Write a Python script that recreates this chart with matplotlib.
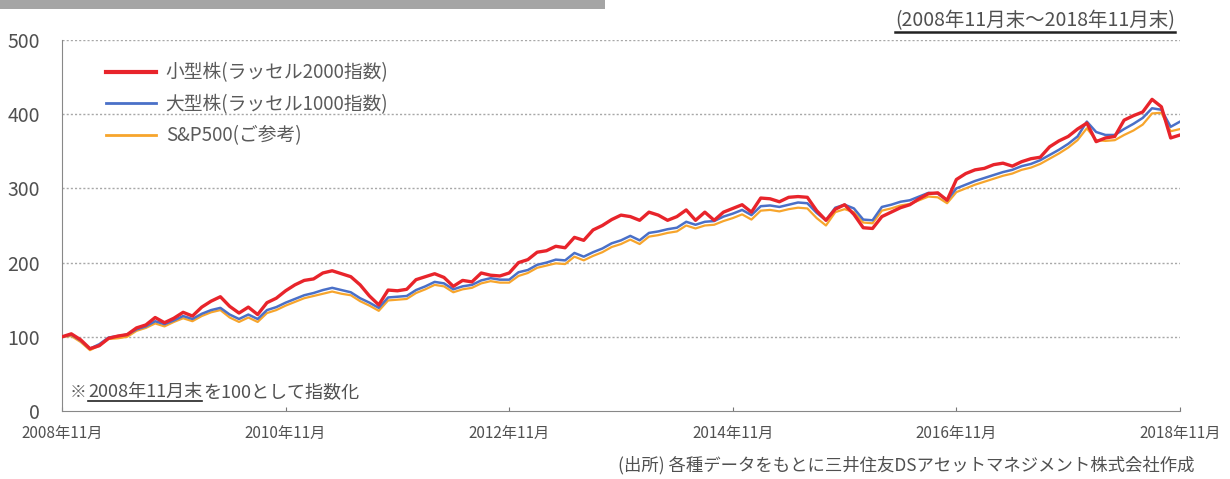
import matplotlib
matplotlib.use("Agg")
import matplotlib.pyplot as plt
from matplotlib.patches import Rectangle
from matplotlib.lines import Line2D

plt.rcParams['font.family'] = ['Noto Sans CJK JP', 'DejaVu Sans']

# monthly index values, 2008-11 .. 2018-11 (2008-11 = 100)
russell2000 = [
    100, 104, 96, 84, 88, 98, 101, 103, 112, 116,
    126, 119, 125, 133, 128, 140, 148, 154, 141, 132,
    140, 130, 146, 152, 162, 170, 176, 178, 186, 189,
    185, 181, 170, 155, 143, 163, 162, 164, 177, 181,
    185, 180, 168, 176, 174, 186, 183, 182, 186, 200,
    204, 214, 216, 222, 220, 234, 230, 244, 250, 258,
    264, 262, 257, 268, 264, 257, 262, 271, 257, 268,
    257, 268, 273, 278, 268, 287, 286, 282, 288, 289,
    288, 270, 257, 272, 278, 265, 247, 246, 262, 268,
    274, 278, 286, 293, 294, 284, 312, 320, 325, 327,
    332, 334, 330, 336, 340, 342, 356, 364, 370, 380,
    388, 363, 368, 370, 392, 398, 403, 420, 410, 368,
    372,
]
russell1000 = [
    100, 103, 95, 84, 90, 99, 101, 103, 110, 114,
    121, 117, 122, 128, 124, 131, 136, 139, 130, 124,
    130, 124, 136, 140, 146, 151, 156, 159, 163, 166,
    163, 160, 152, 146, 139, 153, 154, 155, 163, 168,
    174, 172, 164, 168, 170, 176, 179, 177, 177, 187,
    190, 197, 200, 204, 203, 213, 208, 214, 219, 226,
    230, 236, 230, 240, 242, 245, 247, 255, 251, 255,
    256, 262, 266, 271, 264, 276, 277, 275, 278, 281,
    280, 267, 257, 274, 278, 273, 258, 257, 275, 278,
    282, 284, 289, 294, 293, 284, 300, 305, 310, 314,
    318, 322, 325, 330, 333, 338, 345, 352, 360, 370,
    390, 376, 372, 372, 380, 387, 395, 408, 406, 383,
    390,
]
sp500 = [
    100, 101, 93, 82, 88, 97, 98, 100, 108, 112,
    118, 114, 120, 125, 121, 128, 133, 136, 126, 120,
    126, 120, 132, 136, 142, 147, 152, 155, 158, 161,
    158, 156, 148, 142, 135, 149, 150, 151, 159, 164,
    170, 168, 160, 164, 166, 172, 175, 173, 173, 182,
    186, 193, 196, 199, 198, 208, 203, 209, 214, 221,
    225, 231, 225, 235, 237, 240, 242, 250, 246, 250,
    251, 256, 260, 265, 258, 270, 271, 269, 272, 274,
    273, 260, 250, 268, 272, 268, 254, 253, 270, 273,
    277, 279, 284, 289, 288, 280, 295, 300, 305, 309,
    313, 317, 320, 325, 328, 333, 340, 347, 355, 365,
    381, 365, 364, 365, 372, 378, 386, 401, 402, 377,
    380,
]

series_names = ['小型株(ラッセル2000指数)', '大型株(ラッセル1000指数)', 'S&P500(ご参考)']
tick_months = [0, 24, 48, 72, 96, 120]
tick_labels = ['2008年11月', '2010年11月', '2012年11月', '2014年11月', '2016年11月', '2018年11月']
y_ticks = [0, 100, 200, 300, 400, 500]

months = list(range(len(russell2000)))

fig = plt.figure(figsize=(12.3, 4.79), dpi=100)
ax = fig.add_axes([62 / 1230, 1 - 411 / 479, 1118 / 1230, 371 / 479])

c_red = '#e8242b'
c_blue = '#4a70c8'
c_orange = '#f7a52c'

ax.plot(months, sp500, color=c_orange, lw=1.6, zorder=3)
ax.plot(months, russell1000, color=c_blue, lw=1.8, zorder=4)
ax.plot(months, russell2000, color=c_red, lw=2.4, zorder=5)

ax.set_xlim(0, 120)
ax.set_ylim(0, 500)
ax.set_yticks(y_ticks)
ax.set_yticklabels([str(v) for v in y_ticks], fontsize=14, color='#505050')
ax.set_xticks(tick_months)
ax.set_xticklabels(tick_labels, fontsize=11, color='#505050')
ax.tick_params(axis='y', length=0, pad=16)
ax.tick_params(axis='x', direction='in', length=3, color='#777777', pad=10)
for v in y_ticks[1:]:
    ax.axhline(v, color='#a8a8a8', lw=1, ls=(0, (1.5, 1.5)), zorder=1)
for s in ['top', 'right']:
    ax.spines[s].set_visible(False)
ax.spines['left'].set_color('#888888')
ax.spines['bottom'].set_color('#888888')

# legend
handles = [Line2D([], [], color=c_red, lw=3),
           Line2D([], [], color=c_blue, lw=2),
           Line2D([], [], color=c_orange, lw=2)]
leg = ax.legend(handles, series_names, loc='upper left', bbox_to_anchor=(0.024, 0.985),
                frameon=False, fontsize=13.5, handlelength=2.7, labelspacing=0.55,
                handletextpad=0.5)
for t in leg.get_texts():
    t.set_color('#5a5a5a')

# header decoration
fig.patches.append(Rectangle((0, 1 - 9 / 479), 605 / 1230, 9 / 479, transform=fig.transFigure,
                             facecolor='#a5a5a5', edgecolor='none'))

period = fig.text(1175 / 1230, 1 - 21 / 479, '(2008年11月末～2018年11月末)', ha='right', va='center',
                  fontsize=14, color='#505050')
note1 = fig.text(70 / 1230, 1 - 392 / 479, '※', ha='left', va='center', fontsize=12, color='#5a5a5a')
note2 = fig.text(88 / 1230, 1 - 392 / 479, '2008年11月末', ha='left', va='center', fontsize=13,
                 color='#505050')
fig.text(618 / 1230, 1 - 465 / 479, '(出所) 各種データをもとに三井住友DSアセットマネジメント株式会社作成',
         ha='left', va='center', fontsize=12.5, color='#505050')

fig.canvas.draw()
r = fig.canvas.get_renderer()
inv = fig.transFigure.inverted()
bb2 = note2.get_window_extent(r)
x_end = inv.transform((bb2.x1, bb2.y0))[0]
fig.text(x_end + 1 / 1230, 1 - 392 / 479, 'を100として指数化', ha='left', va='center',
         fontsize=13, color='#505050')


def underline(t, lw):
    bb = t.get_window_extent(r)
    (x0, y0), (x1, _) = inv.transform([(bb.x0, bb.y0), (bb.x1, bb.y0)])
    fig.add_artist(Line2D([x0, x1], [y0, y0], transform=fig.transFigure,
                          color='#222222', lw=lw))


underline(period, 1.8)
underline(note2, 1.2)

fig.savefig('out.png', dpi=100, facecolor='white')
